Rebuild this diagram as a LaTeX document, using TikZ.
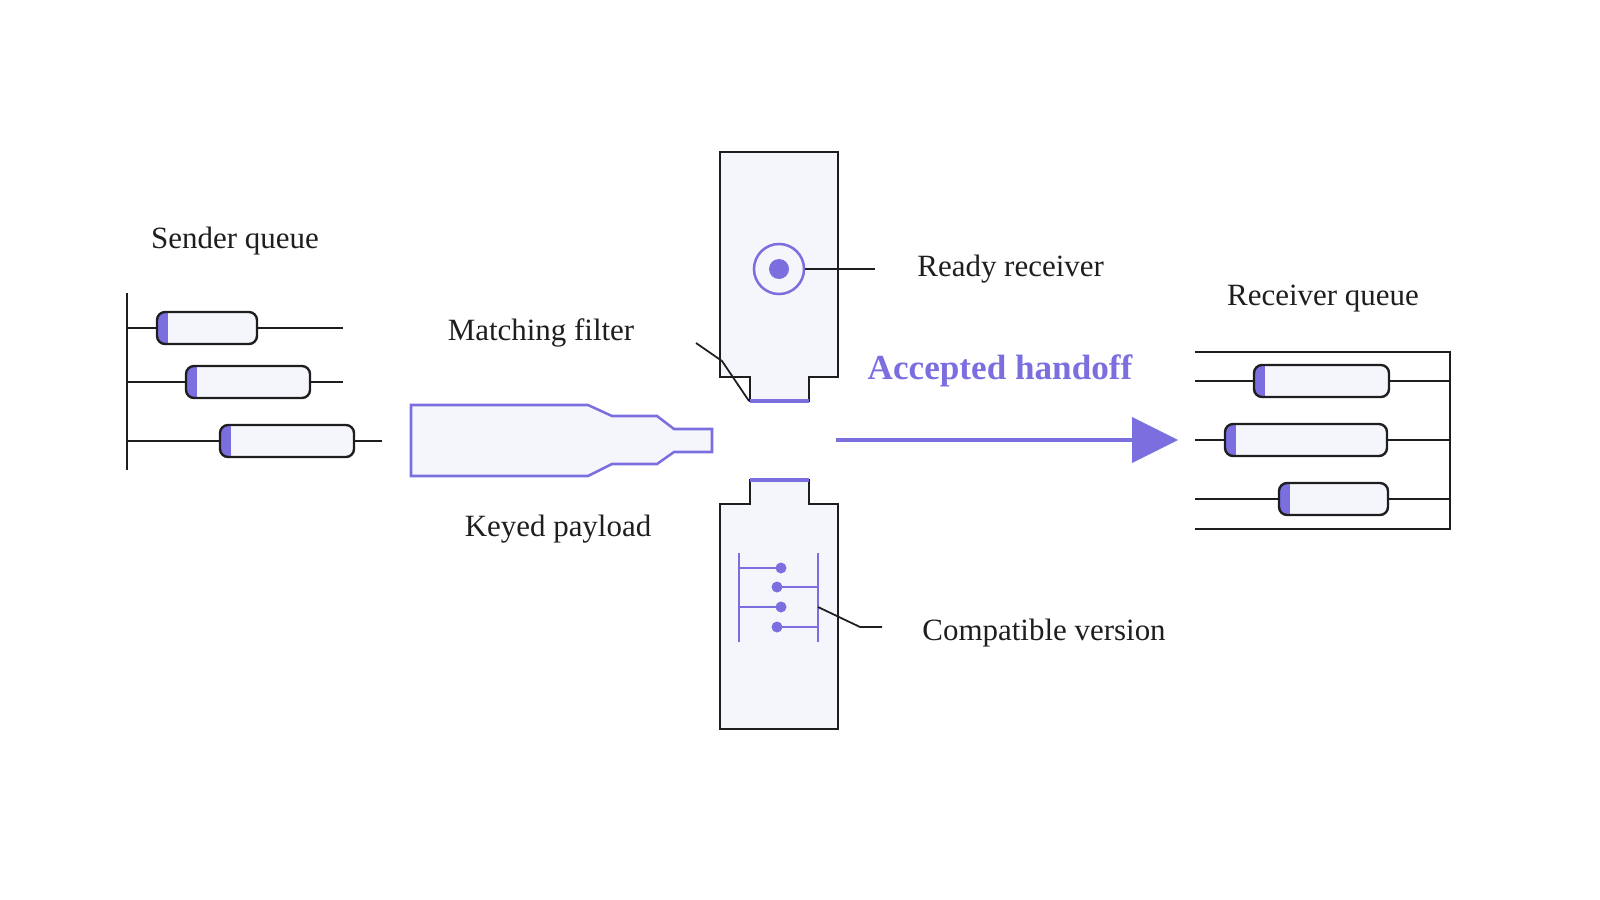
\documentclass[tikz,border=0pt]{standalone}
\usepackage{fontspec}
\setmainfont{Liberation Serif}
\definecolor{accent}{HTML}{7B6FE0}
\definecolor{pale}{HTML}{F5F6FC}
\definecolor{ink}{HTML}{1E1E1E}
\tikzset{
  wire/.style={ink, line width=0.62pt},
  body/.style={ink, line width=0.68pt, fill=pale},
  tag/.style={font=\fontsize{8.8}{11}\selectfont, text=ink},
  purp/.style={accent, line width=0.72pt},
}
% capsule: left x, right x, centre y
\newcommand{\capsule}[3]{
  \fill[pale, rounded corners=2.3pt] (#1,#3-16) rectangle (#2,#3+16);
  \begin{scope}
    \clip[rounded corners=2.3pt] (#1,#3-16) rectangle (#2,#3+16);
    \fill[accent] (#1,#3-17) rectangle (#1+11,#3+17);
  \end{scope}
  \draw[ink, line width=0.68pt, rounded corners=2.3pt] (#1,#3-16) rectangle (#2,#3+16);
}
\begin{document}
\begin{tikzpicture}[x=0.01cm, y=-0.01cm]

\useasboundingbox (0,0) rectangle (1600,900);

% sender queue
\node[tag] (sendlbl) at (235,241) {Sender queue};
\path (127,293) coordinate(S0) (127,470) coordinate(S1);
\draw[wire] (S0)--(S1);
\path (343,328) coordinate(Sa) (343,382) coordinate(Sb) (382,441) coordinate(Sc);
\draw[wire] (127,328)--(Sa);
\draw[wire] (127,382)--(Sb);
\draw[wire] (127,441)--(Sc);
\capsule{157}{257}{328}
\capsule{186}{310}{382}
\capsule{220}{354}{441}

% keyed payload
\draw[purp, fill=pale] (411,405)--(588,405)--(612,416)--(657,416)--(674,429)--(712,429)
  --(712,452)--(674,452)--(657,464)--(612,464)--(588,476)--(411,476)--cycle;
\node[tag] (paylbl) at (558,529) {Keyed payload};

% ready receiver
\draw[body] (720,152)--(838,152)--(838,377)--(809,377)--(809,401)--(750,401)--(750,377)--(720,377)--cycle;
\draw[purp, line width=1.2pt] (750,401)--(809,401);
\node[circle, draw=accent, line width=0.72pt, minimum size=0.5cm, inner sep=0] (ring) at (779,269) {};
\fill[accent] (ring.center) circle (10);
\node[tag, anchor=west] (readylbl) at (905,269) {Ready receiver};
\path (875,269) coordinate(R1);
\draw[wire, line width=0.5pt] (ring.east)--(R1);

% matching filter
\node[tag] (filtlbl) at (541,333) {Matching filter};
\path (696,343) coordinate(F0) (722,361) coordinate(F1) (749,401) coordinate(F2);
\draw[wire, line width=0.5pt] (F0)--(F1)--(F2);

% compatible version
\draw[body] (750,480)--(809,480)--(809,504)--(838,504)--(838,729)--(720,729)--(720,504)--(750,504)--cycle;
\draw[purp, line width=1.2pt] (750,480)--(809,480);
\draw[purp] (739,553)--(739,642) (818,553)--(818,642);
\foreach \y in {568,607} {
  \draw[purp] (739,\y)--(781,\y);
  \fill[accent] (781,\y) circle (5.5);
}
\foreach \y in {587,627} {
  \draw[purp] (777,\y)--(818,\y);
  \fill[accent] (777,\y) circle (5.5);
}
\path (818,607) coordinate(V0) (860,627) coordinate(V1) (882,627) coordinate(V2);
\draw[wire, line width=0.5pt] (V0)--(V1)--(V2);
\node[tag, anchor=west] (compatlbl) at (910,633) {Compatible version};

% accepted handoff
\path (836,440) coordinate(H0) (1135,440) coordinate(H1) (1178,440) coordinate(H2);
\draw[accent, line width=1.1pt] (H0)--(H1);
\fill[accent] (1132,417)--(H2)--(1132,463)--cycle;
\node[tag, text=accent, font=\fontsize{10}{12}\selectfont\bfseries] (acclbl) at (1000,371) {Accepted handoff};

% receiver queue
\node[tag] (recvlbl) at (1323,299) {Receiver queue};
\path (1450,352) coordinate(Q0) (1450,529) coordinate(Q1);
\draw[wire] (1195,352)--(Q0)--(Q1)--(1195,529);
\draw[wire] (1195,381)--(1450,381);
\draw[wire] (1195,440)--(1450,440);
\draw[wire] (1195,499)--(1450,499);
\capsule{1254}{1389}{381}
\capsule{1225}{1387}{440}
\capsule{1279}{1388}{499}

\end{tikzpicture}
\end{document}
